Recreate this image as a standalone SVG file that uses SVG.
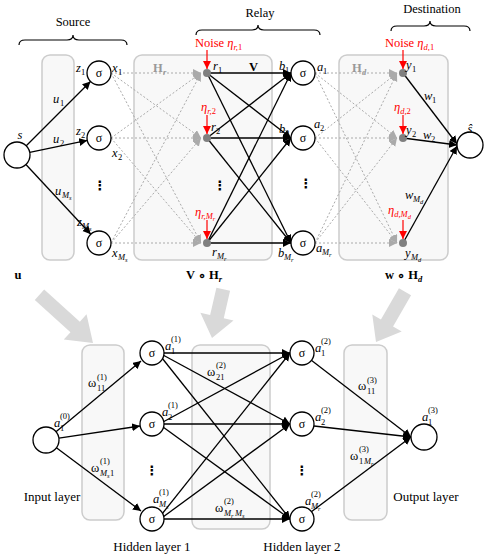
<svg xmlns="http://www.w3.org/2000/svg" width="485" height="554" viewBox="0 0 485 554">
<style>
text{font-family:"Liberation Serif","Times New Roman",serif;font-size:12.5px;fill:#000}
.i{font-style:italic}
.u{font-style:normal}
.sb{font-size:8.5px}
.ss{font-size:6.5px}
.b{font-weight:bold}
.r{fill:#ff0000}
.g{fill:#999}
.lbl{font-size:13px}
.dots{font-family:"DejaVu Sans",sans-serif;font-size:13px;font-weight:bold;text-anchor:middle}
.panel{fill:#f8f8f8;stroke:#cccccc;stroke-width:1.5}
.node{fill:#fff;stroke:#000;stroke-width:1.3}
.dot{fill:#808080}
.e{stroke:#000;stroke-width:1.3;fill:none;marker-end:url(#ah)}
.d{stroke:#aaa;stroke-width:1;stroke-dasharray:2 2;fill:none;marker-end:url(#ag)}
.n{stroke:#ff0000;stroke-width:1.2;fill:none;marker-end:url(#ar)}
.brace{fill:none;stroke:#000;stroke-width:1.2}
.big{fill:#d9d9d9}
.sig{text-anchor:middle;font-size:12px}
</style>
<defs>
<marker id="ah" markerUnits="userSpaceOnUse" markerWidth="10" markerHeight="10" refX="8" refY="4" orient="auto"><path d="M0,0 L8,4 L0,8 Z" fill="#000"/></marker>
<marker id="ag" markerUnits="userSpaceOnUse" markerWidth="10" markerHeight="10" refX="8" refY="4" orient="auto"><path d="M0,0 L8,4 L0,8 Z" fill="#aaa"/></marker>
<marker id="ar" markerUnits="userSpaceOnUse" markerWidth="10" markerHeight="10" refX="8" refY="4" orient="auto"><path d="M0,0 L8,4 L0,8 Z" fill="#ff0000"/></marker>
</defs>

<!-- braces and section titles -->
<g id="source-title">
<path class="brace" d="M19,45 Q19,40 25,40 L67,40 Q73,40 73,35 Q73,40 79,40 L121,40 Q127,40 127,45"/>
<text x="73" y="26" text-anchor="middle">Source</text>
</g>
<g id="relay-title">
<path class="brace" d="M196,35 Q196,30 202,30 L252,30 Q258,30 258,25 Q258,30 264,30 L314,30 Q320,30 320,35"/>
<text x="260" y="17" text-anchor="middle">Relay</text>
</g>
<g id="destination-title">
<path class="brace" d="M391,31 Q391,26 397,26 L424,26 Q430,26 430,21 Q430,26 436,26 L464,26 Q470,26 470,31"/>
<text x="432" y="13" text-anchor="middle">Destination</text>
</g>

<!-- panels -->
<g id="panels">
<rect class="panel" x="42" y="55" width="32" height="205" rx="8"/>
<rect class="panel" x="134" y="55" width="138" height="205" rx="8"/>
<rect class="panel" x="339" y="55" width="109" height="205" rx="8"/>
<rect class="panel" x="82" y="345" width="42" height="175" rx="8"/>
<rect class="panel" x="192" y="345" width="78" height="184" rx="8"/>
<rect class="panel" x="344" y="345" width="43" height="175" rx="8"/>
</g>

<!-- big gray arrows -->
<g id="transform-arrows">
<polygon class="big" transform="translate(93,343) rotate(42)" points="-72,-7 -24,-7 -24,-17 0,0 -24,17 -24,7 -72,7"/>
<polygon class="big" transform="translate(212,338) rotate(103)" points="-50,-7 -22,-7 -22,-17 0,0 -22,17 -22,7 -50,7"/>
<polygon class="big" transform="translate(376,342) rotate(120)" points="-58,-7 -22,-7 -22,-17 0,0 -22,17 -22,7 -58,7"/>
</g>

<!-- connectors -->
<g id="connectors">
<line class="e" x1="26" y1="146" x2="90.5" y2="81.5"/>
<line class="e" x1="29.7" y1="152.4" x2="87.2" y2="140.4"/>
<line class="e" x1="25.9" y1="164.5" x2="90.8" y2="234.2"/>
<line class="d" x1="111" y1="73" x2="201" y2="73"/>
<line class="d" x1="111" y1="73" x2="201" y2="138"/>
<line class="d" x1="111" y1="73" x2="201" y2="243"/>
<line class="d" x1="111" y1="138" x2="201" y2="73"/>
<line class="d" x1="111" y1="138" x2="201" y2="138"/>
<line class="d" x1="111" y1="138" x2="201" y2="243"/>
<line class="d" x1="111" y1="243" x2="201" y2="73"/>
<line class="d" x1="111" y1="243" x2="201" y2="138"/>
<line class="d" x1="111" y1="243" x2="201" y2="243"/>
<line class="e" x1="207" y1="73" x2="291" y2="73"/>
<line class="e" x1="207" y1="73" x2="291" y2="138"/>
<line class="e" x1="207" y1="73" x2="291" y2="243"/>
<line class="e" x1="207" y1="138" x2="291" y2="73"/>
<line class="e" x1="207" y1="138" x2="291" y2="138"/>
<line class="e" x1="207" y1="138" x2="291" y2="243"/>
<line class="e" x1="207" y1="243" x2="291" y2="73"/>
<line class="e" x1="207" y1="243" x2="291" y2="138"/>
<line class="e" x1="207" y1="243" x2="291" y2="243"/>
<line class="d" x1="315" y1="73" x2="397" y2="73"/>
<line class="d" x1="315" y1="73" x2="397" y2="138"/>
<line class="d" x1="315" y1="73" x2="397" y2="243"/>
<line class="d" x1="315" y1="138" x2="397" y2="73"/>
<line class="d" x1="315" y1="138" x2="397" y2="138"/>
<line class="d" x1="315" y1="138" x2="397" y2="243"/>
<line class="d" x1="315" y1="243" x2="397" y2="73"/>
<line class="d" x1="315" y1="243" x2="397" y2="138"/>
<line class="d" x1="315" y1="243" x2="397" y2="243"/>
<line class="e" x1="403" y1="73" x2="457" y2="144"/>
<line class="e" x1="403" y1="138" x2="457" y2="145"/>
<line class="e" x1="403" y1="243" x2="457" y2="146"/>
<line class="n" x1="207" y1="50" x2="207" y2="69"/>
<line class="n" x1="207" y1="115" x2="207" y2="134"/>
<line class="n" x1="207" y1="220" x2="207" y2="239"/>
<line class="n" x1="403" y1="50" x2="403" y2="69"/>
<line class="n" x1="403" y1="115" x2="403" y2="134"/>
<line class="n" x1="403" y1="220" x2="403" y2="239"/>
<line class="e" x1="56" y1="431.7" x2="141" y2="361"/>
<line class="e" x1="58.9" y1="438.1" x2="140" y2="426"/>
<line class="e" x1="56.4" y1="447.8" x2="141" y2="511"/>
<line class="e" x1="163" y1="353" x2="290" y2="353"/>
<line class="e" x1="163" y1="355" x2="290" y2="424"/>
<line class="e" x1="162" y1="358" x2="290" y2="519"/>
<line class="e" x1="163" y1="422" x2="290" y2="353"/>
<line class="e" x1="164" y1="424" x2="290" y2="424"/>
<line class="e" x1="163" y1="427" x2="290" y2="519"/>
<line class="e" x1="162" y1="514" x2="290" y2="353"/>
<line class="e" x1="163" y1="517" x2="290" y2="424"/>
<line class="e" x1="164" y1="519" x2="290" y2="519"/>
<line class="e" x1="311" y1="360" x2="411" y2="437"/>
<line class="e" x1="314" y1="426" x2="411" y2="437"/>
<line class="e" x1="311" y1="512" x2="411" y2="437"/>
</g>

<!-- top nodes -->
<g id="node-s"><circle class="node" cx="17" cy="155" r="13"/><text class="i" x="20" y="139" text-anchor="middle">s</text></g>
<g id="node-src1"><circle class="node" cx="99" cy="73" r="12"/><text class="sig" x="99" y="77">σ</text></g>
<g id="node-src2"><circle class="node" cx="99" cy="138" r="12"/><text class="sig" x="99" y="142">σ</text></g>
<g id="node-src3"><circle class="node" cx="99" cy="243" r="12"/><text class="sig" x="99" y="247">σ</text></g>
<g id="node-r1"><circle class="dot" cx="207" cy="73" r="4"/></g>
<g id="node-r2"><circle class="dot" cx="207" cy="138" r="4"/></g>
<g id="node-r3"><circle class="dot" cx="207" cy="243" r="4"/></g>
<g id="node-b1"><circle class="node" cx="303" cy="73" r="12"/><text class="sig" x="303" y="77">σ</text></g>
<g id="node-b2"><circle class="node" cx="303" cy="138" r="12"/><text class="sig" x="303" y="142">σ</text></g>
<g id="node-b3"><circle class="node" cx="303" cy="243" r="12"/><text class="sig" x="303" y="247">σ</text></g>
<g id="node-y1"><circle class="dot" cx="403" cy="73" r="4"/></g>
<g id="node-y2"><circle class="dot" cx="403" cy="138" r="4"/></g>
<g id="node-y3"><circle class="dot" cx="403" cy="243" r="4"/></g>
<g id="node-shat"><circle class="node" cx="470" cy="145" r="13"/><text class="i" x="470" y="133" text-anchor="middle">ŝ</text></g>

<!-- top labels -->
<g id="top-labels">
<text class="i" x="53" y="103">u<tspan class="sb u" x="60" y="106">1</tspan></text>
<text class="i" x="53" y="143">u<tspan class="sb u" x="60" y="146">2</tspan></text>
<text class="i" x="55" y="195">u<tspan class="sb" x="62" y="198">M</tspan><tspan class="ss" x="69" y="200">s</tspan></text>
<text class="i" x="76" y="72">z<tspan class="sb u" x="81" y="75">1</tspan></text>
<text class="i" x="76" y="135">z<tspan class="sb u" x="81" y="138">2</tspan></text>
<text class="i" x="77" y="226">z<tspan class="sb" x="82" y="229">M</tspan><tspan class="ss" x="89" y="231">s</tspan></text>
<text class="i" x="112" y="72">x<tspan class="sb u" x="118" y="75">1</tspan></text>
<text class="i" x="112" y="157">x<tspan class="sb u" x="118" y="160">2</tspan></text>
<text class="i" x="112" y="257">x<tspan class="sb" x="118" y="260">M</tspan><tspan class="ss" x="125" y="262">s</tspan></text>
<text class="b g" x="153" y="72">H<tspan class="sb i" x="163" y="75">r</tspan></text>
<text class="i" x="213" y="70">r<tspan class="sb u" x="218" y="73">1</tspan></text>
<text class="i" x="211" y="131">r<tspan class="sb u" x="216" y="134">2</tspan></text>
<text class="i" x="212" y="256">r<tspan class="sb" x="217" y="259">M</tspan><tspan class="ss" x="224" y="261">r</tspan></text>
<text class="b" x="249" y="71">V</text>
<text class="i" x="279" y="70">b<tspan class="sb u" x="285" y="73">1</tspan></text>
<text class="i" x="279" y="133">b<tspan class="sb u" x="285" y="136">2</tspan></text>
<text class="i" x="278" y="257">b<tspan class="sb" x="284" y="260">M</tspan><tspan class="ss" x="291" y="262">r</tspan></text>
<text class="i" x="317" y="71">a<tspan class="sb u" x="323" y="74">1</tspan></text>
<text class="i" x="314" y="128">a<tspan class="sb u" x="320" y="131">2</tspan></text>
<text class="i" x="316" y="252">a<tspan class="sb" x="322" y="255">M</tspan><tspan class="ss" x="329" y="257">r</tspan></text>
<text class="b g" x="352" y="72">H<tspan class="sb i" x="362" y="75">d</tspan></text>
<text class="i" x="406" y="69">y<tspan class="sb u" x="412" y="72">1</tspan></text>
<text class="i" x="406" y="134">y<tspan class="sb u" x="412" y="137">2</tspan></text>
<text class="i" x="405" y="257">y<tspan class="sb" x="411" y="260">M</tspan><tspan class="ss" x="418" y="262">d</tspan></text>
<text class="i" x="424" y="100">w<tspan class="sb u" x="432" y="103">1</tspan></text>
<text class="i" x="423" y="139">w<tspan class="sb u" x="431" y="142">2</tspan></text>
<text class="i" x="405" y="199">w<tspan class="sb" x="413" y="202">M</tspan><tspan class="ss" x="420" y="204">d</tspan></text>
<text class="r" x="195" y="47">Noise <tspan class="i">η</tspan><tspan class="sb i" dy="3">r,</tspan><tspan class="sb u">1</tspan></text>
<text class="r i" x="201" y="111">η<tspan class="sb" dy="3">r,</tspan><tspan class="sb u">2</tspan></text>
<text class="r i" x="195" y="216">η<tspan class="sb" dy="3">r,M</tspan><tspan class="ss" dy="2">r</tspan></text>
<text class="r" x="385" y="47">Noise <tspan class="i">η</tspan><tspan class="sb i" dy="3">d,</tspan><tspan class="sb u">1</tspan></text>
<text class="r i" x="394" y="111">η<tspan class="sb" dy="3">d,</tspan><tspan class="sb u">2</tspan></text>
<text class="r i" x="388" y="214">η<tspan class="sb" dy="3">d,M</tspan><tspan class="ss" dy="2">d</tspan></text>
<text class="dots" x="100" y="190">⋮</text>
<text class="dots" x="220" y="190">⋮</text>
<text class="dots" x="306" y="188">⋮</text>
<text class="b" x="18" y="279" text-anchor="middle">u</text>
<text class="b" x="186" y="279">V ∘ H<tspan class="sb i" dy="3">r</tspan></text>
<text class="b" x="385" y="279">w ∘ H<tspan class="sb i" dy="3">d</tspan></text>
</g>

<!-- bottom nodes -->
<g id="node-in"><circle class="node" cx="46" cy="440" r="13"/></g>
<g id="node-h11"><circle class="node" cx="152" cy="353" r="12"/><text class="sig" x="152" y="357">σ</text></g>
<g id="node-h12"><circle class="node" cx="152" cy="424" r="12"/><text class="sig" x="152" y="428">σ</text></g>
<g id="node-h13"><circle class="node" cx="152" cy="519" r="12"/><text class="sig" x="152" y="523">σ</text></g>
<g id="node-h21"><circle class="node" cx="302" cy="353" r="12"/><text class="sig" x="302" y="357">σ</text></g>
<g id="node-h22"><circle class="node" cx="302" cy="424" r="12"/><text class="sig" x="302" y="428">σ</text></g>
<g id="node-h23"><circle class="node" cx="302" cy="519" r="12"/><text class="sig" x="302" y="523">σ</text></g>
<g id="node-out"><circle class="node" cx="424" cy="437" r="13"/></g>

<!-- bottom labels -->
<g id="bottom-labels">
<text class="i" x="54" y="427">a<tspan class="sb u" x="60" y="431">1</tspan><tspan class="sb u" x="60" y="419">(0)</tspan></text>
<text x="88" y="387">ω<tspan class="sb" x="97" y="391">11</tspan><tspan class="sb" x="97" y="380">(1)</tspan></text>
<text x="91" y="472">ω<tspan class="sb i" x="100" y="476">M</tspan><tspan class="ss i" x="107" y="478">s</tspan><tspan class="sb" x="110" y="476">1</tspan><tspan class="sb" x="100" y="464">(1)</tspan></text>
<text class="i" x="165" y="350">a<tspan class="sb u" x="171" y="354">1</tspan><tspan class="sb u" x="171" y="342">(1)</tspan></text>
<text class="i" x="162" y="416">a<tspan class="sb u" x="168" y="420">2</tspan><tspan class="sb u" x="168" y="408">(1)</tspan></text>
<text class="i" x="153" y="503">a<tspan class="sb" x="159" y="507">M</tspan><tspan class="ss" x="166" y="509">s</tspan><tspan class="sb u" x="159" y="495">(1)</tspan></text>
<text x="207" y="376">ω<tspan class="sb" x="216" y="380">21</tspan><tspan class="sb" x="216" y="368">(2)</tspan></text>
<text x="215" y="512">ω<tspan class="sb i" x="224" y="516">M</tspan><tspan class="ss i" x="231" y="518">r</tspan><tspan class="sb i" x="235" y="516">M</tspan><tspan class="ss i" x="242" y="518">s</tspan><tspan class="sb" x="224" y="504">(2)</tspan></text>
<text class="i" x="315" y="352">a<tspan class="sb u" x="321" y="356">1</tspan><tspan class="sb u" x="321" y="344">(2)</tspan></text>
<text class="i" x="315" y="421">a<tspan class="sb u" x="321" y="425">2</tspan><tspan class="sb u" x="321" y="413">(2)</tspan></text>
<text class="i" x="305" y="505">a<tspan class="sb" x="311" y="509">M</tspan><tspan class="ss" x="318" y="511">r</tspan><tspan class="sb u" x="311" y="497">(2)</tspan></text>
<text x="358" y="390">ω<tspan class="sb" x="367" y="394">11</tspan><tspan class="sb" x="367" y="383">(3)</tspan></text>
<text x="350" y="460">ω<tspan class="sb" x="359" y="464">1</tspan><tspan class="sb i" x="364" y="464">M</tspan><tspan class="ss i" x="371" y="466">r</tspan><tspan class="sb" x="359" y="452">(3)</tspan></text>
<text class="i" x="422" y="421">a<tspan class="sb u" x="428" y="425">1</tspan><tspan class="sb u" x="428" y="413">(3)</tspan></text>
<text class="dots" x="152" y="475">⋮</text>
<text class="dots" x="302" y="475">⋮</text>
<text class="lbl" x="52" y="501" text-anchor="middle">Input layer</text>
<text class="lbl" x="152" y="551" text-anchor="middle">Hidden layer 1</text>
<text class="lbl" x="302" y="551" text-anchor="middle">Hidden layer 2</text>
<text class="lbl" x="426" y="501" text-anchor="middle">Output layer</text>
</g>
</svg>
